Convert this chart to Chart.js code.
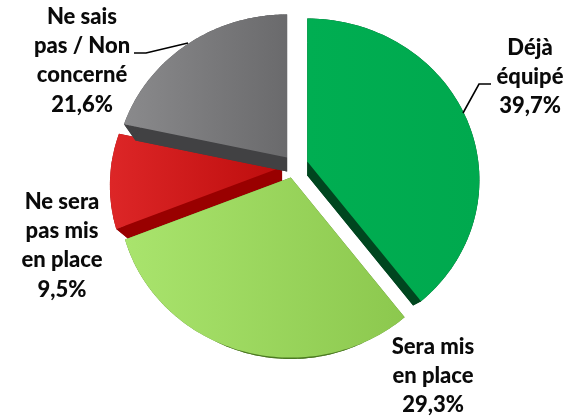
<!DOCTYPE html>
<html><head><meta charset="utf-8">
<style>html,body{margin:0;padding:0;background:#fff}canvas{display:block}</style>
<script src="https://cdn.jsdelivr.net/npm/chart.js@4"></script></head>
<body><canvas id="c" width="570" height="416"></canvas>
<script>
const categories = ["Déjà équipé", "Sera mis en place", "Ne sera pas mis en place", "Ne sais pas / Non concerné"];
const values = [39.7, 29.3, 9.5, 21.6];
const valueLabels = ["39,7%", "29,3%", "9,5%", "21,6%"];
const labelLines = [["Déjà", "équipé"], ["Sera mis", "en place"], ["Ne sera", "pas mis", "en place"], ["Ne sais", "pas / Non", "concerné"]];
const faceLight = ["#00ae52", "#a9e46d", "#dd2627", "#8a8a8c"];
const faceDark = ["#00a94e", "#8cc84e", "#bd0d0d", "#6a6a6c"];
const sideColors = ["#00461f", "#4c7a22", "#990000", "#414143"];
const explode = [14, 12, 12, 11];
const drawOrder = [2, 3, 0, 1];

const TILT = {k: 0.1146, a: 171, b: 159.4, depth: 14, shrink: 0.93};
const LABEL_POS = [{x: 530, y: 55}, {x: 433, y: 354}, {x: 62, y: 209}, {x: 82, y: 24}];
const LINE_H = 29.2;
const LEADERS = [[[491, 84], [479, 84], [463, 113]], [], [], [[134, 53], [146, 53], [188, 43]]];

function rimPoint(theta) {
  const w = 1 - TILT.k * Math.sin(theta);
  return [TILT.a * Math.cos(theta) / w, TILT.b * Math.sin(theta) / w];
}
const projection = {
  id: "projection",
  beforeDatasetDraw(chart, args) {
    const ctx = chart.ctx, meta = args.meta;
    drawOrder.forEach(i => {
      const el = meta.data[i];
      const mid = (el.startAngle + el.endAngle) / 2;
      const ox = el.x + Math.cos(mid) * el.options.offset;
      const oy = el.y + Math.sin(mid) * el.options.offset;
      const n = 90, rim = [];
      for (let s = 0; s <= n; s++) rim.push(rimPoint(el.startAngle + (el.endAngle - el.startAngle) * s / n));
      const top = p => [ox + p[0], oy + p[1]];
      const bot = p => [ox + p[0] * TILT.shrink, oy + p[1] * TILT.shrink + TILT.depth];
      const poly = pts => { ctx.beginPath(); pts.forEach((p, j) => j ? ctx.lineTo(p[0], p[1]) : ctx.moveTo(p[0], p[1])); ctx.closePath(); ctx.fill(); };
      ctx.fillStyle = sideColors[i];
      poly([bot([0, 0]), ...rim.map(bot)]);
      poly([top([0, 0]), top(rim[0]), bot(rim[0]), bot([0, 0])]);
      poly([top([0, 0]), top(rim[n]), bot(rim[n]), bot([0, 0])]);
      for (let s = 0; s < n; s++) poly([top(rim[s]), top(rim[s + 1]), bot(rim[s + 1]), bot(rim[s])]);
      const xs = rim.map(p => ox + p[0]).concat([ox]);
      const g = ctx.createLinearGradient(Math.min(...xs), 0, Math.max(...xs), 0);
      g.addColorStop(0, faceLight[i]);
      g.addColorStop(1, faceDark[i]);
      ctx.fillStyle = g;
      poly([[ox, oy], ...rim.map(top)]);
    });
    return false;
  },
  afterDatasetsDraw(chart) {
    const ctx = chart.ctx;
    ctx.save();
    ctx.strokeStyle = "#000";
    ctx.lineWidth = 1.6;
    LEADERS.forEach(l => {
      if (!l.length) return;
      ctx.beginPath();
      l.forEach((p, j) => j ? ctx.lineTo(p[0], p[1]) : ctx.moveTo(p[0], p[1]));
      ctx.stroke();
    });
    ctx.fillStyle = "#0a0a0a";
    ctx.textAlign = "center";
    ctx.textBaseline = "alphabetic";
    ctx.font = "900 22px Lato";
    labelLines.forEach((lines, i) => {
      const all = lines.concat([valueLabels[i]]);
      all.forEach((t, j) => ctx.fillText(t, LABEL_POS[i].x, LABEL_POS[i].y + j * LINE_H));
    });
    ctx.restore();
  }
};
new Chart(document.getElementById("c"), {
  type: "pie",
  data: {labels: categories, datasets: [{data: values, backgroundColor: faceDark, offset: explode, borderWidth: 0}]},
  options: {
    responsive: false, animation: false,
    layout: {padding: {left: 100, right: 82, top: 0, bottom: 84}},
    plugins: {legend: {display: false}, tooltip: {enabled: false}}
  },
  plugins: [projection]
});
</script></body></html>
